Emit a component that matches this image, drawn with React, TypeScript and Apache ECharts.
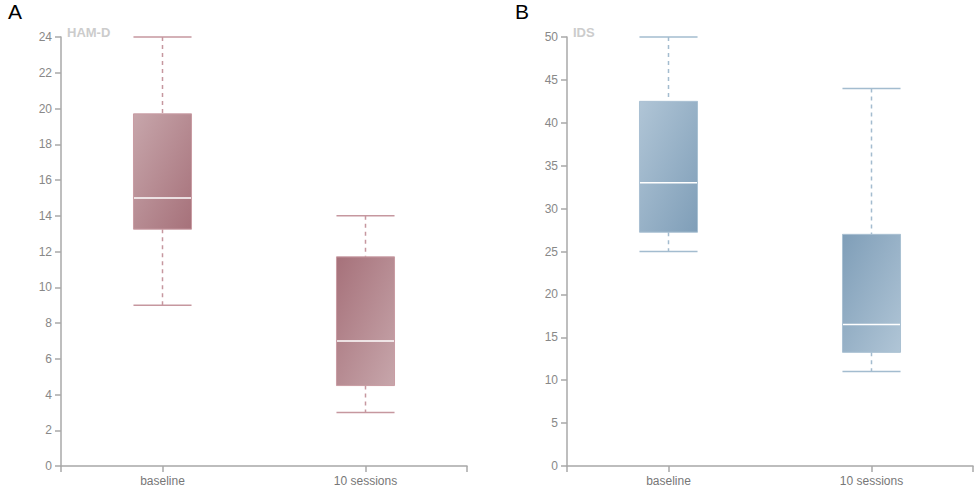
import React, { useEffect, useRef } from "react";
import * as echarts from "echarts";

const categories = ["baseline", "10 sessions"];
// [min, Q1, median, Q3, max]
const hamdValues = [
  [9, 13.25, 15, 19.7, 24],
  [3, 4.5, 7, 11.7, 14],
];
const idsValues = [
  [25, 27.25, 33, 42.5, 50],
  [11, 13.25, 16.5, 27, 44],
];
const hamdTicks = { min: 0, max: 24, interval: 2 };
const idsTicks = { min: 0, max: 50, interval: 5 };

const palA = { light: "#c7a6ab", dark: "#a6717a", stroke: "#c99ca3", whisker: "#c6979f" };
const palB = { light: "#b0c5d6", dark: "#7f9eb8", stroke: "#a9c0d2", whisker: "#a3bccf" };

function makeRender(pal: any) {
  return (params: any, api: any) => {
    const idx = api.value(0);
    const vmin = api.value(1);
    const q1 = api.value(2);
    const med = api.value(3);
    const q3 = api.value(4);
    const vmax = api.value(5);
    const w = api.size([1, 0])[0] * 0.286;
    const h = w / 2;
    const pMin = api.coord([idx, vmin]);
    const pQ1 = api.coord([idx, q1]);
    const pMed = api.coord([idx, med]);
    const pQ3 = api.coord([idx, q3]);
    const pMax = api.coord([idx, vmax]);
    const cx = pMin[0];
    const grad =
      idx === 0
        ? new echarts.graphic.LinearGradient(0, 0, 1, 1, [
            { offset: 0, color: pal.light },
            { offset: 1, color: pal.dark },
          ])
        : new echarts.graphic.LinearGradient(0, 0, 1, 1, [
            { offset: 0, color: pal.dark },
            { offset: 1, color: pal.light },
          ]);
    const dash = { stroke: pal.whisker, lineWidth: 1.5, lineDash: [4, 4] };
    const cap = { stroke: pal.whisker, lineWidth: 1.5 };
    return {
      type: "group",
      children: [
        { type: "line", shape: { x1: cx, y1: pMax[1], x2: cx, y2: pQ3[1] }, style: dash },
        { type: "line", shape: { x1: cx, y1: pQ1[1], x2: cx, y2: pMin[1] }, style: dash },
        { type: "line", shape: { x1: cx - h, y1: pMax[1], x2: cx + h, y2: pMax[1] }, style: cap },
        { type: "line", shape: { x1: cx - h, y1: pMin[1], x2: cx + h, y2: pMin[1] }, style: cap },
        {
          type: "rect",
          shape: { x: cx - h, y: pQ3[1], width: w, height: pQ1[1] - pQ3[1] },
          style: { fill: grad, stroke: pal.stroke, lineWidth: 1 },
        },
        {
          type: "line",
          shape: { x1: cx - h + 0.5, y1: pMed[1], x2: cx + h - 0.5, y2: pMed[1] },
          style: { stroke: "#ffffff", lineWidth: 1.5 },
        },
      ],
    };
  };
}

const font = "Liberation Sans, Arial, sans-serif";

function xAxisOf(gridIndex: number) {
  return {
    type: "value",
    gridIndex,
    min: -0.5,
    max: 1.5,
    splitLine: { show: false },
    axisLine: { show: true, onZero: false, lineStyle: { color: "#a8a8a8", width: 1.5 } },
    axisTick: {
      show: true,
      length: 6,
      customValues: [-0.5, 0, 1, 1.5],
      lineStyle: { color: "#a8a8a8", width: 1.5 },
    },
    axisLabel: {
      show: true,
      customValues: [0, 1],
      margin: 9,
      color: "#777777",
      fontSize: 12,
      fontFamily: font,
      formatter: (v: number) => categories[Math.round(v)] ?? "",
    },
  };
}

function yAxisOf(gridIndex: number, t: any) {
  return {
    type: "value",
    gridIndex,
    min: t.min,
    max: t.max,
    interval: t.interval,
    splitLine: { show: false },
    axisLine: { show: true, onZero: false, lineStyle: { color: "#a8a8a8", width: 1.5 } },
    axisTick: { show: true, length: 6, lineStyle: { color: "#a8a8a8", width: 1.5 } },
    axisLabel: {
      margin: 9,
      color: "#888888",
      fontSize: 12,
      fontFamily: font,
    },
  };
}

export default function App() {
  const ref = useRef<HTMLDivElement>(null);
  useEffect(() => {
    if (!ref.current) return;
    const chart = echarts.init(ref.current, null, { renderer: "svg" });
    const dataA = hamdValues.map((v, i) => [i, ...v]);
    const dataB = idsValues.map((v, i) => [i, ...v]);
    chart.setOption({
      animation: false,
      grid: [
        { left: 61, right: 509, top: 37, bottom: 22 },
        { left: 567, right: 3, top: 37, bottom: 22 },
      ],
      xAxis: [xAxisOf(0), xAxisOf(1)],
      yAxis: [yAxisOf(0, hamdTicks), yAxisOf(1, idsTicks)],
      graphic: [
        {
          type: "text",
          left: 8,
          top: 1,
          style: { text: "A", fontSize: 21, fill: "#000", fontFamily: font },
        },
        {
          type: "text",
          left: 515,
          top: 1,
          style: { text: "B", fontSize: 21, fill: "#000", fontFamily: font },
        },
        {
          type: "text",
          left: 67,
          top: 26,
          style: { text: "HAM-D", fontSize: 13, fontWeight: "bold", fill: "#cccccc", fontFamily: font },
        },
        {
          type: "text",
          left: 573,
          top: 26,
          style: { text: "IDS", fontSize: 13, fontWeight: "bold", fill: "#cccccc", fontFamily: font },
        },
      ],
      series: [
        {
          type: "custom",
          xAxisIndex: 0,
          yAxisIndex: 0,
          renderItem: makeRender(palA),
          encode: { x: 0, y: [1, 2, 3, 4, 5] },
          data: dataA,
        },
        {
          type: "custom",
          xAxisIndex: 1,
          yAxisIndex: 1,
          renderItem: makeRender(palB),
          encode: { x: 0, y: [1, 2, 3, 4, 5] },
          data: dataB,
        },
      ],
    });
    return () => chart.dispose();
  }, []);
  return <div ref={ref} style={{ width: 976, height: 488, position: "absolute", left: 0, top: 0 }} />;
}
